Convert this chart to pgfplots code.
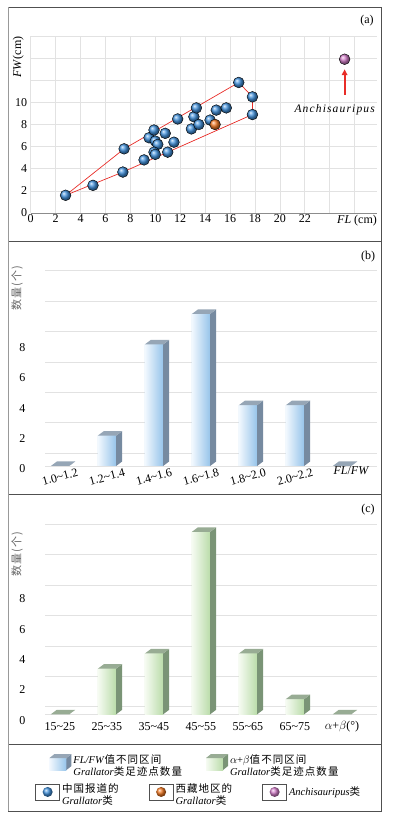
\documentclass[border=0pt]{standalone}
\usepackage{fontspec}
\setmainfont{Liberation Serif}
\newfontfamily\spaced{Liberation Serif}[LetterSpace=10]
\newfontfamily\cjk{Noto Sans CJK SC}[LetterSpace=10]
\usepackage{pgfplots}
\pgfplotsset{compat=1.18}
\usepackage{pgfplotstable}
\usetikzlibrary{arrows.meta}

\definecolor{gridgray}{RGB}{226,226,226}
\definecolor{axgray}{RGB}{140,140,140}
\definecolor{framegray}{RGB}{80,80,80}
\definecolor{ballblue}{RGB}{65,145,220}
\definecolor{ballorange}{RGB}{240,120,35}
\definecolor{ballpink}{RGB}{210,125,200}
\definecolor{hullred}{RGB}{232,45,40}
\definecolor{bfl}{RGB}{242,248,254}
\definecolor{bfr}{RGB}{150,196,234}
\definecolor{bside}{RGB}{118,138,160}
\definecolor{btop}{RGB}{150,166,182}
\definecolor{gfl}{RGB}{246,251,242}
\definecolor{gfr}{RGB}{186,220,170}
\definecolor{gside}{RGB}{122,148,118}
\definecolor{gtop}{RGB}{152,172,148}

\pgfdeclareplotmark{nothing}{}

% panel (a): FL, FW of the Grallator tracks
\pgfplotstableread{
x y
2.8 1.6
5.0 2.5
7.4 3.7
7.5 5.8
9.1 4.8
9.5 6.8
9.9 7.5
10.0 6.5
10.2 6.2
9.9 5.5
10.0 5.3
10.8 7.2
11.0 5.5
11.5 6.4
11.8 8.5
12.9 7.6
13.1 8.7
13.3 9.5
13.5 8.0
14.4 8.4
14.9 9.3
15.7 9.5
16.7 11.8
17.8 10.5
17.8 8.9
}\chinatab

% panel (b): counts per FL/FW class
\pgfplotstableread{
x y
0 0
1 2
2 8
3 10
4 4
5 4
6 0
}\ratiotab

% panel (c): counts per alpha+beta class
\pgfplotstableread{
x y
0 0
1 3
2 4
3 12
4 4
5 1
6 0
}\angletab

\pgfplotsset{
  panel/.style={scale only axis, clip=false,
    axis line style={draw=none}, tick style={draw=none},
    /pgf/number format/assume math mode=true,
    tick label style={font=\fontsize{12}{12}\selectfont}},
  barpanel/.style={panel, width=332pt, xmin=-0.319, xmax=6.745, ymin=0,
    xtick={0,...,6}, ytick={0,2,4,6,8},
    yticklabel style={xshift=-16pt},
    extra y tick labels={},
    extra y tick style={ymajorgrids=true, major grid style={gridgray, line width=0.6pt}}},
  fronts/.style={ybar, bar width=18.3pt, bar shift=0pt, draw=none,
    fill=#1, restrict y to domain=0.5:100},
  % shaded front, side and top of each bar, drawn at the bar's top
  prism/.style n args={4}{only marks, scatter, mark=nothing,
    scatter/use mapped color={draw=none, fill=none},
    visualization depends on={y \as \rawy},
    scatter/@pre marker code/.code={%
      \pgfmathsetlengthmacro\hh{\rawy*15.2pt}%
      \pgfmathsetlengthmacro\hs{4.5pt-\rawy*15.2pt}%
      \ifdim\hh>0.5pt
        \shade[draw=none, left color=#1, right color=#2] (-9.15pt,-\hh) rectangle (9.15pt,0pt);
      \fi
      \fill[draw=none, #3] (9.15pt,-\hh) -- (15.15pt,\hs) -- (15.15pt,4.5pt) -- (9.15pt,0pt) -- cycle;
      \fill[draw=none, #4] (-9.15pt,0pt) -- (9.15pt,0pt) -- (15.15pt,4.5pt) -- (-3.15pt,4.5pt) -- cycle;},
    scatter/@post marker code/.code={}},
  boxicon/.style n args={4}{legend image code/.code={
    \shade[draw=none, left color=#1, right color=#2] (0pt,-7pt) rectangle (17pt,5pt);
    \fill[draw=none, #3] (17pt,-7pt) -- (22pt,-3pt) -- (22pt,9pt) -- (17pt,5pt) -- cycle;
    \fill[draw=none, #4] (0pt,5pt) -- (17pt,5pt) -- (22pt,9pt) -- (5pt,9pt) -- cycle;}},
  ballicon/.style={legend image code/.code={
    \draw[framegray, fill=white, line width=0.8pt] (0pt,-8pt) rectangle (24pt,8pt);
    \shade[draw=none, ball color=#1] (12pt,0pt) circle (5pt);}},
}

\begin{document}
\begin{tikzpicture}
\useasboundingbox (0pt,0pt) rectangle (393pt,814pt);

% ---------- (a)
\begin{axis}[panel, at={(30.7pt,601pt)}, anchor=south west,
  width=346.3pt, height=177pt, xmin=0, xmax=27.8, ymin=0, ymax=16,
  xtick={0,2,...,26}, xticklabels={0,2,4,6,8,10,12,14,16,18,20,22,,},
  ytick={0,2,...,16}, yticklabels={0,2,4,6,8,10,,,},
  grid=major, major grid style={gridgray, line width=0.6pt},
  xticklabel style={inner sep=1.5pt}]
\draw[axgray, line width=0.7pt] (axis cs:0,0) -- (axis cs:27.8,0);
\addplot[hullred, line width=0.7pt, mark=none] coordinates
  {(2.8,1.6) (7.5,5.8) (16.7,11.8) (17.8,10.5) (17.8,8.9) (7.4,3.7) (2.8,1.6)};
\addplot[only marks, mark=ball, mark size=5.4pt, mark options={ball color=ballblue}] table {\chinatab};
\addplot[only marks, mark=ball, mark size=5.4pt, mark options={ball color=ballorange}] coordinates {(14.8,8.0)};
\addplot[only marks, mark=ball, mark size=5.4pt, mark options={ball color=ballpink}] coordinates {(25.2,13.9)};
\addplot[hullred, line width=1.8pt, mark=none, -{Triangle[length=6pt,width=5.5pt]}] coordinates {(25.2,10.7) (25.2,13.0)};
\node[font=\spaced\itshape\fontsize{11.5}{12}\selectfont] at (axis cs:24.4,9.3) {Anchisauripus};
\node[anchor=north, inner sep=1.5pt, font=\fontsize{12}{12}\selectfont] at (axis cs:26.2,0) {\textit{FL} (cm)};
\end{axis}
\node[rotate=90, font=\fontsize{12}{12}\selectfont] at (18.3pt,757pt) {\textit{FW}(cm)};
\node[font=\fontsize{12}{12}\selectfont] at (367pt,793pt) {(a)};

% ---------- (b)
\begin{axis}[barpanel, at={(45pt,348pt)}, anchor=south west,
  height=197.6pt, ymax=13,
  xticklabels={1.0\textasciitilde1.2,1.2\textasciitilde1.4,1.4\textasciitilde1.6,1.6\textasciitilde1.8,1.8\textasciitilde2.0,2.0\textasciitilde2.2,},
  xticklabel style={anchor=center, yshift=-11pt, rotate=15},
  yticklabel style={yshift=-3pt},
  extra y ticks={0,0.85,2.85,4.85,6.85,8.85,10.85,12.85}]
\addplot[fronts=bfr] table {\ratiotab};
\addplot[prism={bfl}{bfr}{bside}{btop}] table {\ratiotab};
\node[font=\fontsize{12}{12}\selectfont] at (axis cs:6.2,-0.3) {\textit{FL}/\textit{FW}};
\end{axis}
\node[rotate=90, text=black!60, font=\cjk\fontsize{11}{11}\selectfont] at (17pt,526pt) {数量(个)};
\node[font=\fontsize{12}{12}\selectfont] at (368pt,557pt) {(b)};

% ---------- (c)
\begin{axis}[barpanel, at={(45pt,99.7pt)}, anchor=south west,
  height=193.04pt, ymax=12.7,
  xticklabels={15\textasciitilde25,25\textasciitilde35,35\textasciitilde45,45\textasciitilde55,55\textasciitilde65,65\textasciitilde75,$\alpha$+$\beta$(°)},
  xticklabel style={anchor=center, yshift=-12.4pt},
  yticklabel style={yshift=-6pt},
  extra y ticks={0,0.5,2.5,4.5,6.5,8.5,10.5,12.5}]
\addplot[fronts=gfr] table {\angletab};
\addplot[prism={gfl}{gfr}{gside}{gtop}] table {\angletab};
\end{axis}
\node[rotate=90, text=black!60, font=\cjk\fontsize{11}{11}\selectfont] at (17pt,260pt) {数量(个)};
\node[font=\fontsize{12}{12}\selectfont] at (368pt,304pt) {(c)};

% ---------- legend, row 1
\begin{axis}[hide axis, scale only axis, at={(8.5pt,3pt)}, anchor=south west,
  width=373pt, height=67pt, xmin=0, xmax=1, ymin=0, ymax=1,
  legend columns=2, legend cell align=left,
  legend style={at={(0.5,0.716)}, anchor=center, draw=none, fill=none,
    font=\fontsize{10.5}{12}\selectfont,
    /tikz/every even column/.append style={column sep=22pt}}]
\addlegendimage{boxicon={bfl}{bfr}{bside}{btop}}
\addlegendentry{\begin{tabular}{@{}l@{}}\textit{FL/FW}{\cjk 值不同区间}\\\textit{Grallator}{\cjk 类足迹点数量}\end{tabular}}
\addlegendimage{boxicon={gfl}{gfr}{gside}{gtop}}
\addlegendentry{\begin{tabular}{@{}l@{}}$\alpha$+$\beta${\cjk 值不同区间}\\\textit{Grallator}{\cjk 类足迹点数量}\end{tabular}}
\end{axis}

% ---------- legend, row 2
\begin{axis}[hide axis, scale only axis, at={(8.5pt,3pt)}, anchor=south west,
  width=373pt, height=67pt, xmin=0, xmax=1, ymin=0, ymax=1,
  legend columns=3, legend cell align=left,
  legend style={at={(0.51,0.284)}, anchor=center, draw=none, fill=none,
    font=\fontsize{10.5}{12.5}\selectfont,
    /tikz/every even column/.append style={column sep=28pt}}]
\addlegendimage{ballicon=ballblue}
\addlegendentry{\begin{tabular}{@{}l@{}}{\cjk 中国报道的}\\\textit{Grallator}{\cjk 类}\end{tabular}}
\addlegendimage{ballicon=ballorange}
\addlegendentry{\begin{tabular}{@{}l@{}}{\cjk 西藏地区的}\\\textit{Grallator}{\cjk 类}\end{tabular}}
\addlegendimage{ballicon=ballpink}
\addlegendentry{\textit{Anchisauripus}{\cjk 类}}
\end{axis}

% ---------- frames
\draw[framegray, line width=0.8pt] (8.5pt,3pt) rectangle (381.5pt,807pt);
\draw[framegray, line width=0.8pt] (8.5pt,573pt) -- (381.5pt,573pt);
\draw[framegray, line width=0.8pt] (8.5pt,320pt) -- (381.5pt,320pt);
\draw[framegray, line width=0.8pt] (8.5pt,70pt) -- (381.5pt,70pt);
\draw[black!40, line width=1.6pt] (8.5pt,3pt) -- (8.5pt,807pt);
\end{tikzpicture}
\end{document}
